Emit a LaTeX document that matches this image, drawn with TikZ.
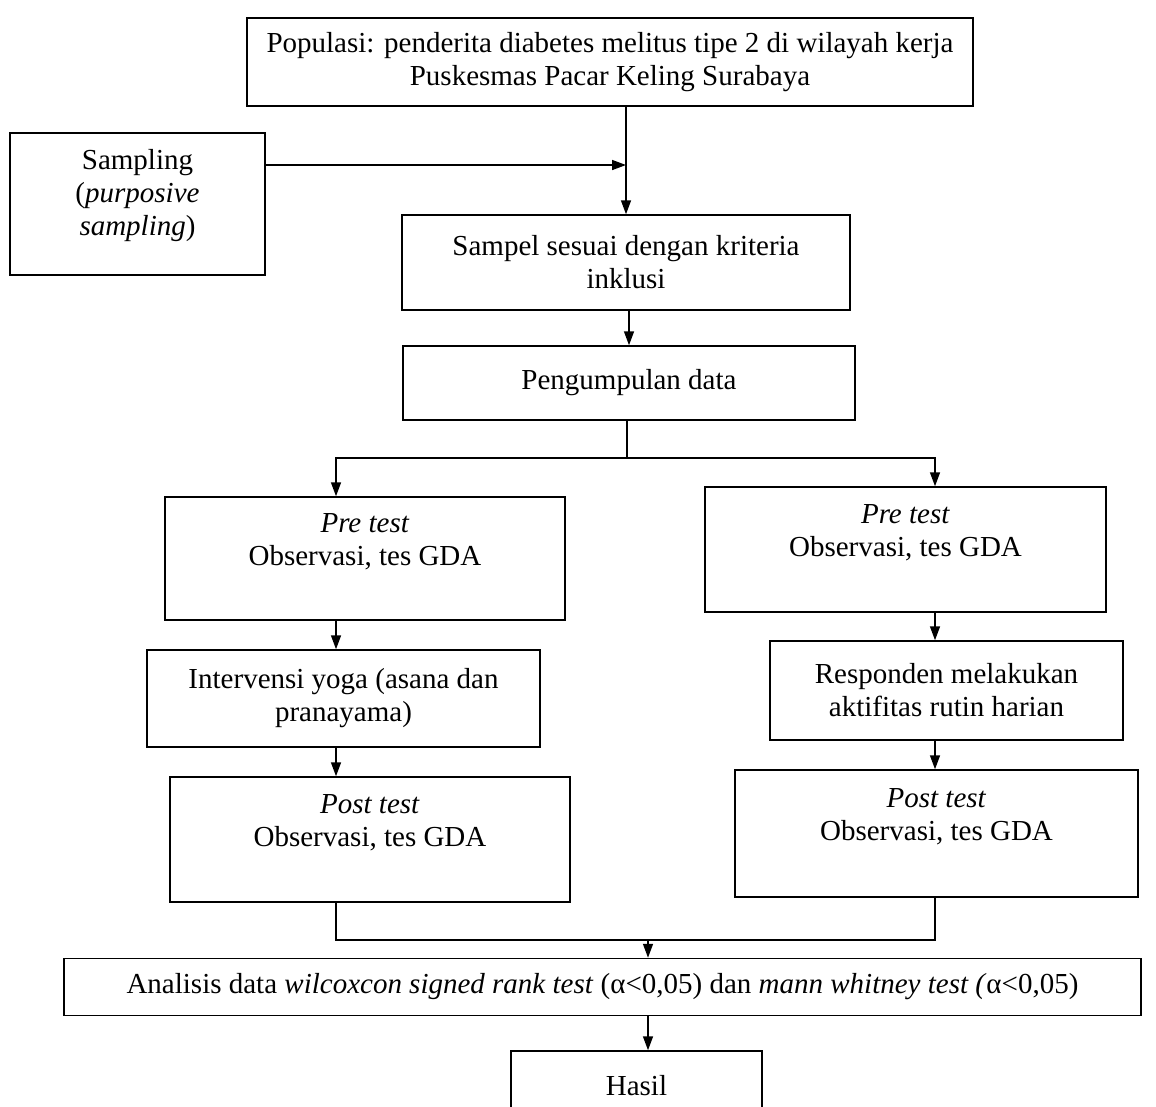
\documentclass[tikz,border=0pt]{standalone}
\usepackage{fontspec}
\setmainfont{Liberation Serif}
\usetikzlibrary{arrows.meta}

\begin{document}
\begin{tikzpicture}[x=1pt, y=-1pt, line width=1.5pt,
    >={Triangle[length=14pt,width=10pt]},
    font=\fontsize{29}{33}\selectfont,
    box/.style={draw, align=center, inner sep=0pt},
    testbox/.style={box, text depth=38pt}]

  % page (px, y downwards)
  \useasboundingbox (0,0) rectangle (1156,1106);
  \clip (0,0) rectangle (1156,1106);

  % ---- boxes ----
  \node[box, minimum width=726pt, minimum height=88pt] (pop) at (610,62)
      {Populasi: penderita diabetes melitus tipe 2 di wilayah kerja\\Puskesmas Pacar Keling Surabaya};
  \node[box, minimum width=255pt, minimum height=142pt, text depth=24pt] (samp) at (137.5,204)
      {Sampling\\(\textit{purposive}\\\textit{sampling})};
  \node[box, minimum width=448pt, minimum height=95pt] (sampel) at (626,262.5)
      {Sampel sesuai dengan kriteria\\inklusi};
  \node[box, minimum width=452pt, minimum height=74pt] (data) at (629,383)
      {Pengumpulan data};

  \node[testbox, minimum width=400pt, minimum height=123pt] (preL) at (365,558.5)
      {\textit{Pre test}\\Observasi, tes GDA};
  \node[testbox, minimum width=401pt, minimum height=125pt] (preR) at (905.5,549.5)
      {\textit{Pre test}\\Observasi, tes GDA};

  \node[box, minimum width=393pt, minimum height=97pt] (yoga) at (343.5,698.5)
      {Intervensi yoga (asana dan\\pranayama)};
  \node[box, minimum width=353pt, minimum height=99pt] (rutin) at (946.5,690.5)
      {Responden melakukan\\aktifitas rutin harian};

  \node[testbox, minimum width=400pt, minimum height=125pt] (postL) at (370,839.5)
      {\textit{Post test}\\Observasi, tes GDA};
  \node[testbox, minimum width=403pt, minimum height=127pt] (postR) at (936.5,833.5)
      {\textit{Post test}\\Observasi, tes GDA};

  \node[box, minimum width=1077pt, minimum height=57pt] (ana) at (602.5,987)
      {Analisis data \textit{wilcoxcon signed rank test} (α<0,05) dan \textit{mann whitney test (}α<0,05)};
  \node[box, minimum width=251pt, minimum height=70pt] (hasil) at (636.5,1086)
      {Hasil};

  % ---- connectors ----
  \coordinate (split) at (627,458);
  \coordinate (join)  at (648,940);
  \coordinate (colL)  at (336,0);
  \coordinate (colR)  at (935,0);

  \draw[->] (sampel.north |- pop.south) -- (sampel.north);
  \draw[->] ([yshift=39pt]samp.east) -- ([yshift=39pt]samp.east -| sampel.north);
  \draw[->] (sampel.south -| data.north) -- (data.north);

  \draw (data.south -| split) -- (split);
  \draw[->] (split) -| (preL.north -| colL);
  \draw[->] (split) -| (preR.north -| colR);

  \draw[->] (preL.south -| colL) -- (yoga.north -| colL);
  \draw[->] (yoga.south -| colL) -- (postL.north -| colL);
  \draw[->] (preR.south -| colR) -- (rutin.north -| colR);
  \draw[->] (rutin.south -| colR) -- (postR.north -| colR);

  \draw (postL.south -| colL) |- (join) -| (postR.south -| colR);
  \draw[->] (join) -- (ana.north -| join);
  \draw[->] (ana.south -| join) -- (hasil.north -| join);

\end{tikzpicture}
\end{document}
